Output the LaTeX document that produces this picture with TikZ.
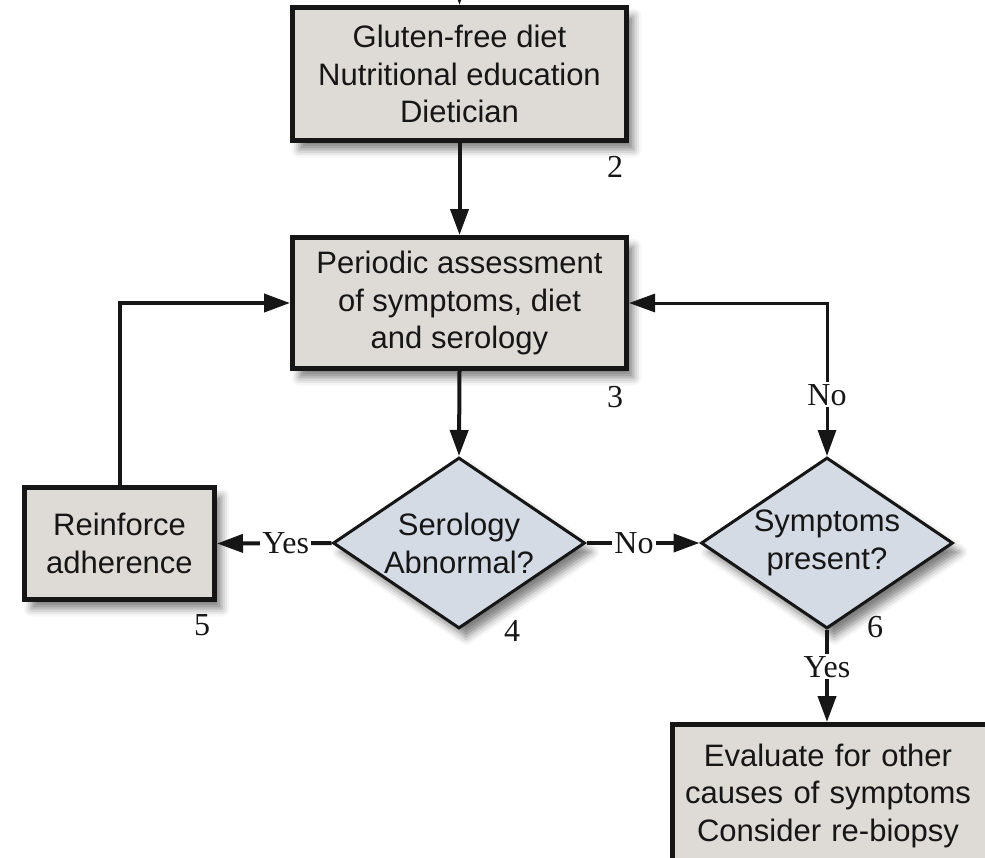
\documentclass[tikz,border=0pt]{standalone}
\usepackage{fontspec}
\setmainfont{Liberation Serif}
\newfontfamily\boxfont{Liberation Sans}
\usetikzlibrary{shapes.geometric,arrows.meta,shadows.blur}
\definecolor{boxfill}{HTML}{DEDAD6}
\definecolor{diafill}{HTML}{D4DBE5}
\definecolor{ink}{HTML}{161616}
\tikzset{
  shade/.style={blur shadow={shadow xshift=7pt,shadow yshift=-9pt,shadow blur radius=8pt,shadow opacity=50}},
  procbox/.style={draw=ink,line width=5pt,fill=boxfill,rectangle,align=center,
    font=\boxfont\fontsize{31}{37.5}\selectfont,text=ink,inner sep=0pt,shade},
  decbox/.style={draw=ink,line width=3pt,fill=diafill,diamond,align=center,aspect=1.47,
    font=\boxfont\fontsize{31}{38}\selectfont,text=ink,inner sep=0pt,
    minimum width=252pt,minimum height=171pt,shade},
  conn/.style={draw=ink,line width=4pt,-{Triangle[length=26pt,width=18pt]}},
  thinconn/.style={draw=ink,line width=3pt},
  lbl/.style={font=\fontsize{32}{32}\selectfont,text=ink,fill=white,inner sep=2pt},
  numlbl/.style={font=\fontsize{32}{32}\selectfont,text=ink,inner sep=0pt}
}
\begin{document}
\begin{tikzpicture}[x=1pt,y=-1pt]
\useasboundingbox (0,0) rectangle (985,857);
\node[procbox,minimum width=334pt,minimum height=133pt] (b1) at (459.5,74)
  {Gluten-free diet\\Nutritional education\\Dietician};
\node[procbox,minimum width=334pt,minimum height=131pt] (b3) at (459.5,303)
  {Periodic assessment\\of symptoms, diet\\and serology};
\node[decbox] (d4) at (459,543) {Serology\\Abnormal?};
\node[procbox,minimum width=190pt,minimum height=112pt] (b5) at (119.5,543.5)
  {Reinforce\\adherence};
\node[decbox] (d6) at (827,543) {Symptoms\\present?};
\node[procbox,align=left,text width=350pt,minimum height=142pt,anchor=north west] (b7) at (669.5,722)
  {\makebox[312pt][c]{Evaluate for other}\\\makebox[312pt][c]{causes of symptoms}\\\makebox[312pt][c]{Consider re-biopsy}};

\node[numlbl] (n2) at (615,167) {2};
\node[numlbl] (n3) at (615,397) {3};
\node[numlbl] (n4) at (512,631) {4};
\node[numlbl] (n5) at (202,625) {5};
\node[numlbl] (n6) at (875,627) {6};

\coordinate (topin) at (459,-40);
\draw[conn] (topin) -- (b1.north);
\draw[conn] (b1.south) -- (b3.north);
\draw[conn] (b3.south) -- (d4.north);
\draw[conn] (d4.west) -- node[lbl,pos=0.4] (yes1) {Yes} (b5.east);
\draw[conn] (b5.north) |- (b3.west);
\draw[conn] (d4.east) -- node[lbl,pos=0.42] (no1) {No} (d6.west);
\draw[thinconn,{Triangle[length=26pt,width=18pt]}-{Triangle[length=26pt,width=18pt]}]
  (b3.east) -| node[lbl,pos=0.8] (no2) {No} (d6.north);
\draw[conn] (d6.south) -- node[lbl,pos=0.4] (yes2) {Yes} (b7.north -| d6.south);
\end{tikzpicture}
\end{document}
